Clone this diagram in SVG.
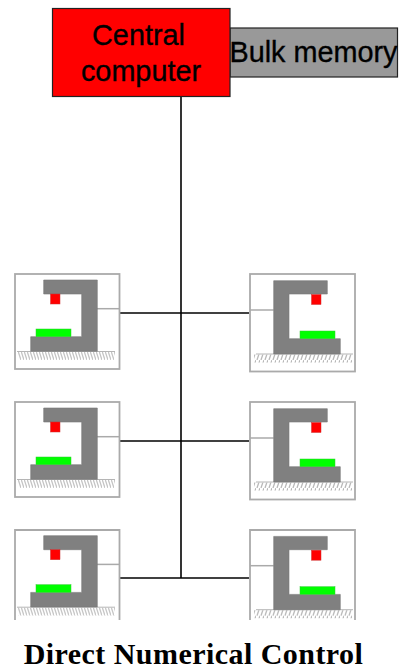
<svg xmlns="http://www.w3.org/2000/svg" width="400" height="670" viewBox="0 0 400 670">
<style>
text{font-family:"Liberation Sans",Arial,sans-serif;fill:#000;text-anchor:middle}
.lbl{font-size:28.8px;stroke:#000;stroke-width:.35}
.title{font-family:"Liberation Serif","Times New Roman",serif;font-weight:bold;font-size:30px;letter-spacing:.45px}
.box{stroke:#222;stroke-width:1.2}
.frame{fill:none;stroke:#aaa;stroke-width:1.8}
.stub{fill:none;stroke:#aaa;stroke-width:1.5}
.body{fill:#808080;stroke:#777;stroke-width:.6}
.tool{fill:#f00;stroke:#c33;stroke-width:.5}
.work{fill:#0f0;stroke:#3c3;stroke-width:.5}
.wire{fill:none;stroke:#000;stroke-width:1.6}
.gline{fill:none;stroke:#b5b5b5;stroke-width:1}
</style>
<defs>
<pattern id="hl" width="3" height="9" patternUnits="userSpaceOnUse">
<path d="M0 0L3 9" stroke="#c4c4c4" stroke-width="1.3" fill="none"/>
</pattern>
<pattern id="hr" width="4" height="9" patternUnits="userSpaceOnUse">
<path d="M4 0L1 9" stroke="#b8b8b8" stroke-width="1.3" fill="none"/>
</pattern>
<g id="ml">
<path class="stub" d="M97 308.7H119.5"/>
<rect x="18" y="352" width="97" height="8" fill="url(#hl)"/>
<path class="gline" d="M17 351.5H115"/>
<path class="body" d="M43.7 280H97.3V351.3H30.7V336.7H81.7V294H43.7Z"/>
<rect class="tool" x="50.5" y="294" width="9.5" height="10"/>
<rect class="work" x="36" y="329" width="35" height="7.7"/>
</g>
<g id="mr">
<path class="stub" d="M250 310H273.7"/>
<rect x="254" y="354.5" width="98" height="8" fill="url(#hr)"/>
<path class="gline" d="M256 354H353"/>
<path class="body" d="M273.7 280.7H327.3V294H289V338.7H340.3V354H273.7Z"/>
<rect class="tool" x="311.5" y="294.5" width="9.5" height="10"/>
<rect class="work" x="300" y="331" width="35" height="7.7"/>
</g>
</defs>
<g id="connectors">
<path class="wire" d="M181 97V578"/>
<path class="wire" d="M120 313H249"/>
<path class="wire" d="M120 441H249"/>
<path class="wire" d="M120 578H249"/>
</g>
<g id="bulk-memory">
<rect class="box" x="230" y="28" width="167.5" height="49" fill="#999"/>
<text class="lbl" x="313.5" y="62">Bulk memory</text>
</g>
<g id="central-computer">
<rect class="box" x="52.5" y="8.5" width="177.5" height="88" fill="#f00"/>
<text class="lbl" x="138.500" y="45">Central</text>
<text class="lbl" x="141" y="80.500">computer</text>
</g>
<g id="machine-l1"><rect class="frame" x="15" y="274" width="104.500" height="95"/><use href="#ml"/></g>
<g id="machine-r1"><rect class="frame" x="250" y="274" width="105" height="97.500"/><use href="#mr"/></g>
<g id="machine-l2"><rect class="frame" x="15" y="402" width="104.500" height="95"/><use href="#ml" y="128"/></g>
<g id="machine-r2"><rect class="frame" x="250" y="402" width="105" height="97.500"/><use href="#mr" y="128"/></g>
<g id="machine-l3"><path class="frame" d="M15 620V530H119.500V620"/><use href="#ml" y="255.700"/></g>
<g id="machine-r3"><path class="frame" d="M250 620V530H355V620"/><use href="#mr" y="255.700"/></g>
<text class="title" x="193.500" y="663.500">Direct Numerical Control</text>
</svg>
